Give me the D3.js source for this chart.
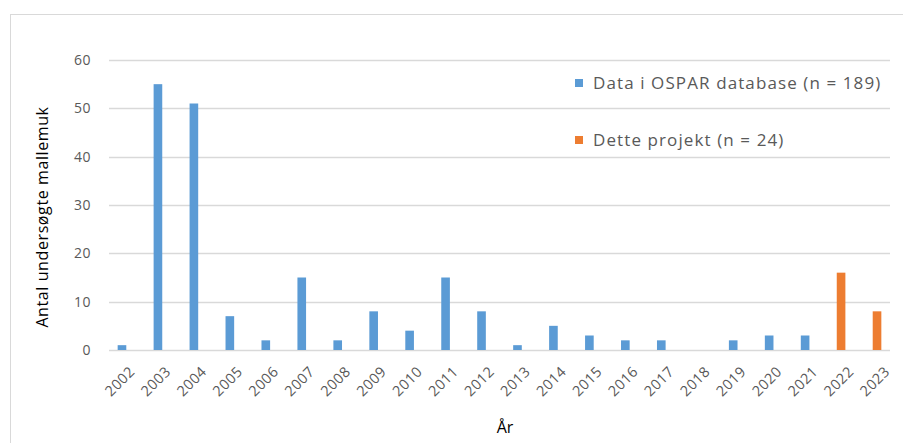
<!DOCTYPE html>
<html lang="da">
<head>
    <meta charset="UTF-8">
    <title>Antal undersøgte mallemuk</title>
    <script src="https://d3js.org/d3.v7.min.js"></script>
    <style>
        body { margin: 0; background: #fff; }
        text { font-family: "Open Sans", "Liberation Sans", sans-serif; }
    </style>
</head>
<body>
<svg width="903" height="443"></svg>
<script>

    // values
    const years   = ["2002","2003","2004","2005","2006","2007","2008","2009","2010","2011","2012",
                     "2013","2014","2015","2016","2017","2018","2019","2020","2021","2022","2023"];
    const ospar   = [1, 55, 51, 7, 2, 15, 2, 8, 4, 15, 8, 1, 5, 3, 2, 2, 0, 2, 3, 3, null, null];
    const projekt = [null, null, null, null, null, null, null, null, null, null, null,
                     null, null, null, null, null, null, null, null, null, 16, 8];
    const yTicks  = [0, 10, 20, 30, 40, 50, 60];
    const seriesNames = ["Data i OSPAR database (n = 189)", "Dette projekt (n = 24)"];
    const seriesColors = ["#5b9bd5", "#ed7d31"];

    const svg = d3.select("svg");

    // chart frame
    svg.append("rect")
        .attr("x", 10.5).attr("y", 14.5)
        .attr("width", 900).attr("height", 440)
        .attr("fill", "none").attr("stroke", "#d9d9d9");

    const x = d3.scaleBand().domain(years).range([104, 895]).paddingInner(0.76).paddingOuter(0.38);
    const y = d3.scaleLinear().domain([0, 60]).range([350, 60]);

    // gridlines
    svg.append("g")
        .selectAll("line")
        .data(yTicks)
        .enter()
        .append("line")
        .attr("x1", 109).attr("x2", 890)
        .attr("y1", d => Math.round(y(d)) + .5)
        .attr("y2", d => Math.round(y(d)) + .5)
        .attr("stroke", "#d9d9d9")
        .attr("stroke-width", 1.5);

    // y tick labels
    svg.append("g")
        .selectAll("text")
        .data(yTicks)
        .enter()
        .append("text")
        .attr("x", 91)
        .attr("y", d => y(d))
        .attr("dy", "0.35em")
        .attr("text-anchor", "end")
        .attr("fill", "#595959")
        .style("font-size", "14px")
        .style("letter-spacing", "0.5px")
        .text(d => d);

    // bars
    const series = [ospar, projekt];
    series.forEach((vals, i) => {
        svg.append("g")
            .selectAll("rect")
            .data(years.map((yr, j) => ({yr, v: vals[j]})).filter(d => d.v !== null && d.v > 0))
            .enter()
            .append("rect")
            .attr("x", d => x(d.yr))
            .attr("width", x.bandwidth())
            .attr("y", d => y(d.v))
            .attr("height", d => y(0) - y(d.v))
            .attr("fill", seriesColors[i]);
    });

    // x tick labels, rotated
    svg.append("g")
        .selectAll("text")
        .data(years)
        .enter()
        .append("text")
        .attr("transform", d => `translate(${x(d) + x.bandwidth() / 2 + 10},${369}) rotate(-45)`)
        .attr("text-anchor", "end")
        .attr("dy", "0.35em")
        .attr("fill", "#595959")
        .style("font-size", "14.5px")
        .style("letter-spacing", "0.4px")
        .text(d => d);

    // axis titles
    svg.append("text")
        .attr("transform", "translate(48,217) rotate(-90)")
        .attr("text-anchor", "middle")
        .attr("fill", "#000")
        .style("font-size", "16px")
        .style("letter-spacing", "0.6px")
        .text("Antal undersøgte mallemuk");

    svg.append("text")
        .attr("x", 505).attr("y", 433)
        .attr("text-anchor", "middle")
        .attr("fill", "#000")
        .style("font-size", "16px")
        .text("År");

    // legend
    const legend = svg.append("g")
        .selectAll("g")
        .data(seriesNames)
        .enter()
        .append("g")
        .attr("transform", (d, i) => `translate(575,${83 + i * 57})`);

    legend.append("rect")
        .attr("x", 0).attr("y", -4)
        .attr("width", 8).attr("height", 8)
        .attr("fill", (d, i) => seriesColors[i]);

    legend.append("text")
        .attr("x", 18)
        .attr("dy", "0.35em")
        .attr("fill", "#595959")
        .style("font-size", "17px")
        .style("letter-spacing", "1.1px")
        .text(d => d);

</script>
</body>
</html>
